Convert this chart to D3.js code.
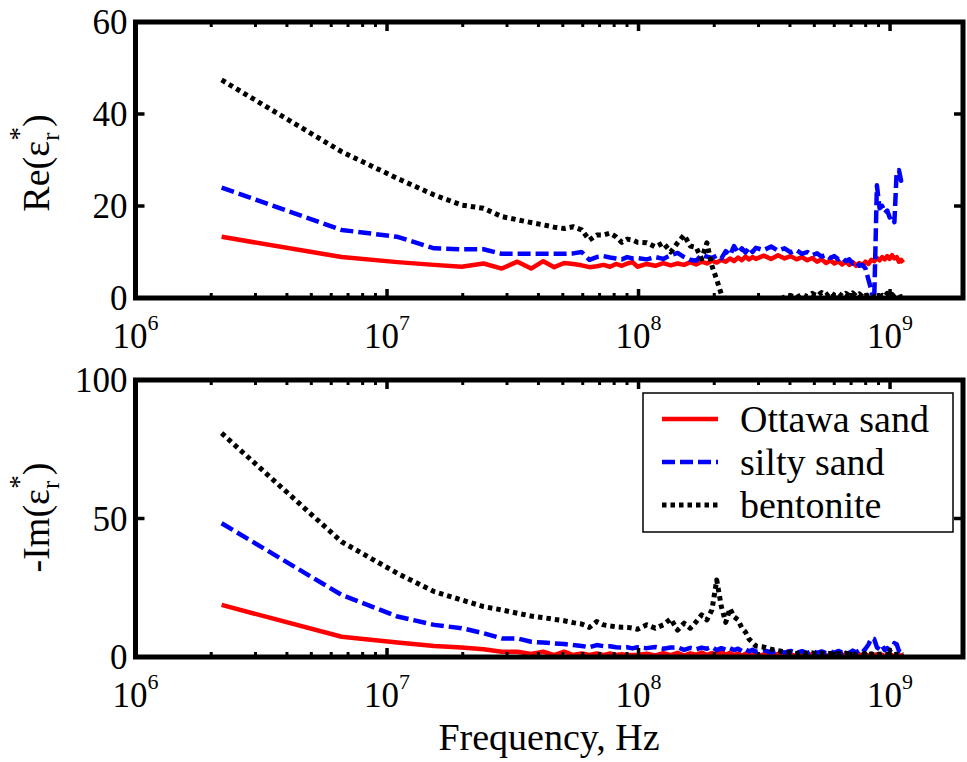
<!DOCTYPE html>
<html><head><meta charset="utf-8">
<script src="https://cdn.jsdelivr.net/npm/d3@7"></script>
<style>html,body{margin:0;padding:0;background:#fff;} svg{display:block;}</style>
</head><body>
<script>
// Frequency in MHz
const freqMHz = [2.2, 6.6, 11, 15.4, 19.8, 24.2, 28.6, 33, 37.4, 41.8, 46.2, 50.6, 55, 59.4, 63.8, 68.2, 72.6, 77, 81.4, 85.8, 90.2, 94.6, 99,
 107.8, 116.6, 125.4, 134.2, 143, 151.8, 160.6, 169.4, 178.2, 187, 195.8, 204.6, 213.4, 222.2, 231, 239.8, 248.6, 257.4, 266.2, 275, 283.8, 292.6,
 314.6, 336.6, 358.6, 380.6, 402.6, 424.6, 446.6, 468.6, 490.6, 512.6, 534.6, 556.6, 578.6, 600.6, 622.6, 644.6, 666.6, 688.6, 710.6, 732.6, 754.6,
 776.6, 798.6, 820.6, 842.6, 864.6, 886.6, 908.6, 930.6, 952.6, 974.6, 996.6, 1018.6, 1040.6, 1062.6, 1084.6, 1106.6, 1128.6];

// Re(eps_r*)
const reOttawa = [13.3, 8.9, 7.8, 7.2, 6.8, 7.5, 6.4, 7.9, 6.4, 8.0, 6.7, 7.6, 7.4, 7.1, 6.7, 6.9, 7.2, 6.8, 7.4, 7.0, 7.5, 7.8, 6.8,
 7.4, 7.0, 7.6, 7.1, 7.5, 7.2, 7.8, 7.3, 7.9, 7.5, 8.1, 7.7, 8.3, 7.9, 8.6, 8.0, 8.8, 8.2, 9.0, 8.4, 8.9, 8.5,
 9.2, 8.5, 9.3, 8.6, 9.1, 8.4, 8.9, 8.2, 8.7, 7.9, 8.4, 7.6, 8.2, 7.5, 8.0, 7.3, 7.9, 7.2, 7.8, 7.0,
 7.6, 7.1, 7.9, 7.4, 8.3, 8.0, 8.7, 8.2, 8.9, 8.4, 9.1, 8.5, 9.3, 8.6, 8.9, 7.9, 8.3, 7.7];
const reSilty = [24.0, 14.8, 13.3, 10.8, 10.6, 10.6, 9.6, 9.6, 9.6, 9.6, 9.6, 9.6, 9.7, 10.0, 8.3, 8.9, 9.1, 8.8, 8.6, 8.4, 8.9, 8.6, 8.7,
 8.4, 8.9, 8.5, 9.3, 9.8, 8.9, 8.3, 8.1, 9.4, 9.0, 8.7, 9.2, 8.6, 10.2, 9.3, 11.3, 9.8, 10.8, 9.9, 11.0, 10.0, 10.9,
 10.4, 11.2, 10.3, 10.8, 9.9, 10.4, 9.6, 10.0, 9.3, 9.7, 9.0, 9.4, 8.7, 9.1, 8.4, 8.8, 8.0, 8.4, 7.5, 7.9,
 7.0, 7.2, 6.4, 4.0, 1.7, -1, 24.5, 19.5, 20.0, 18.5, 19.0, 17.5, 17.8, 16.5, 27.5, 27.8, 25.5, 26.5];
const reBentonite = [47.4, 31.8, 26.0, 22.4, 20.2, 19.5, 17.7, 17.0, 16.4, 15.9, 15.4, 15.1, 15.5, 14.8, 12.6, 13.7, 13.7, 14.1, 13.3, 12.1, 12.8, 12.6, 12.1,
 12.0, 11.1, 12.0, 10.0, 12.0, 13.7, 11.3, 11.0, 8.5, 12.0, 7.0, 4.0, 0.8, -0.5, -0.5, -0.5, -0.5, -0.5, -0.5, -0.5, -0.5, -0.5,
 -0.5, -0.3, -0.5, 0.2, 0.5, 0.1, 0.8, 0.3, 1.0, 0.4, 1.2, 0.5, 1.3, 0.6, 1.1, 0.4, 1.0, 0.5, 1.1, 0.4,
 0.9, 0.3, 0.8, 0.4, 0.9, 0.3, 0.7, 0.2, 0.6, 0.3, 1.0, 0.4, 0.8, 0.2, 0.5, 0.1, 0.3, 0.1];

// -Im(eps_r*)
const imOttawa = [18.8, 7.3, 5.2, 4.0, 3.4, 2.8, 1.9, 1.9, 1.1, 1.9, 0.7, 1.9, 0.7, 1.3, 0.7, 1.3, 0.7, 1.3, 0.7, 1.0, 0.7, 0.7, 0.7,
 1.2, 0.6, 1.4, 0.7, 1.5, 0.5, 1.3, 0.8, 1.6, 0.7, 1.4, 0.9, 1.7, 0.8, 1.5, 0.6, 1.3, 0.5, 1.2, 0.4, 1.0, 0.3,
 0.9, 0.3, 1.1, 0.4, 1.0, 0.2, 0.9, 0.3, 1.1, 0.4, 0.8, 0.2, 1.0, 0.3, 0.9, 0.2, 1.1, 0.4, 0.8, 0.3,
 1.0, 0.2, 0.9, 0.4, 1.2, 0.5, 1.0, 0.3, 0.8, 0.2, 0.9, 0.3, 0.7, 0.2, 0.8, 0.3, 0.6, 0.2];
const imSilty = [48.3, 22.4, 14.6, 11.6, 10.4, 8.6, 6.7, 6.7, 5.5, 5.2, 4.9, 4.7, 4.3, 4.0, 3.5, 4.3, 3.9, 3.9, 3.5, 3.4, 3.5, 3.1, 3.5,
 3.2, 3.6, 3.0, 3.4, 3.5, 2.6, 3.3, 2.8, 3.4, 3.0, 3.6, 2.5, 3.2, 2.6, 3.2, 2.5, 3.0, 2.2, 2.8, 2.0, 2.6, 1.9,
 2.4, 1.7, 2.3, 1.6, 2.2, 1.5, 2.1, 1.4, 2.2, 1.5, 2.0, 1.4, 2.1, 1.5, 2.2, 1.6, 2.0, 1.5, 2.3, 1.6,
 2.4, 1.7, 3.0, 4.5, 6.8, 6.5, 3.5, 2.8, 4.0, 2.5, 3.2, 2.4, 3.0, 5.0, 4.6, 2.2, 1.8, 1.5];
const imBentonite = [80.8, 41.6, 30.2, 23.6, 20.6, 18.2, 17.0, 15.8, 14.8, 14.2, 13.6, 13.1, 12.4, 11.9, 10.7, 12.8, 11.6, 11.2, 10.9, 10.7, 10.7, 10.4, 10.0,
 11.6, 10.4, 11.6, 13.8, 9.7, 12.2, 10.4, 12.7, 15.2, 13.4, 17.0, 27.8, 18.2, 12.5, 17.5, 14.5, 13.4, 10.5, 9.0, 6.5, 5.2, 4.0,
 3.6, 2.8, 2.3, 1.9, 1.6, 1.3, 1.6, 1.2, 1.5, 1.1, 1.4, 1.0, 1.3, 0.9, 1.3, 1.0, 1.4, 1.1, 1.3, 0.9,
 1.2, 1.0, 1.3, 0.9, 1.1, 0.8, 1.2, 0.9, 1.1, 0.8, 1.0, 0.8, 1.1, 0.9, 1.0, 0.8, 0.9, 0.8];

const seriesNames = ["Ottawa sand", "silty sand", "bentonite"];
const xTickExponents = [6, 7, 8, 9];
const reTicks = [0, 20, 40, 60];
const imTicks = [0, 50, 100];

const W = 967, H = 762;
const FONT = "'Liberation Serif','Times New Roman',serif";
const styles = [
  {color: "#ff0000", dash: null, width: 4.5},
  {color: "#0000ff", dash: "13,5", width: 4.5},
  {color: "#000000", dash: "4.5,4", width: 5}
];

const svg = d3.select("body").append("svg").attr("width", W).attr("height", H)
  .style("font-family", FONT);

const x = d3.scaleLog().domain([1e6, 1.95e9]).range([135.5, 963]);

function panel(id, top, bottom, yMax, yTicks, seriesArr, labelPrefix) {
  const y = d3.scaleLinear().domain([0, yMax]).range([bottom, top]);
  const g = svg.append("g");
  const clipId = "clip" + id;
  svg.append("clipPath").attr("id", clipId).append("rect")
    .attr("x", x.range()[0]).attr("y", top).attr("width", x.range()[1] - x.range()[0]).attr("height", bottom - top);

  const line = d3.line().x((d, i) => x(freqMHz[i] * 1e6)).y(d => y(d));
  const dg = g.append("g").attr("clip-path", `url(#${clipId})`);
  seriesArr.forEach((vals, k) => {
    const s = styles[k];
    dg.append("path").datum(vals).attr("d", line)
      .attr("fill", "none").attr("stroke", s.color).attr("stroke-width", s.width)
      .attr("stroke-linejoin", "round")
      .attr("stroke-dasharray", s.dash);
  });

  const [x0, x1] = x.range();
  g.append("rect").attr("x", x0).attr("y", top).attr("width", x1 - x0).attr("height", bottom - top)
    .attr("fill", "none").attr("stroke", "#000").attr("stroke-width", 5);

  const majors = xTickExponents.map(e => Math.pow(10, e));
  const minors = [];
  xTickExponents.forEach(e => { for (let k = 2; k <= 9; k++) { const f = k * Math.pow(10, e); if (f <= x.domain()[1]) minors.push(f); } });
  majors.forEach(f => {
    g.append("line").attr("x1", x(f)).attr("x2", x(f)).attr("y1", bottom).attr("y2", bottom - 9).attr("stroke", "#000").attr("stroke-width", 3.5);
    g.append("line").attr("x1", x(f)).attr("x2", x(f)).attr("y1", top).attr("y2", top + 9).attr("stroke", "#000").attr("stroke-width", 3.5);
  });
  minors.forEach(f => {
    g.append("line").attr("x1", x(f)).attr("x2", x(f)).attr("y1", bottom).attr("y2", bottom - 5).attr("stroke", "#000").attr("stroke-width", 3);
    g.append("line").attr("x1", x(f)).attr("x2", x(f)).attr("y1", top).attr("y2", top + 5).attr("stroke", "#000").attr("stroke-width", 3);
  });
  xTickExponents.forEach(e => {
    const t = g.append("text").attr("x", x(Math.pow(10, e))).attr("y", bottom + 50)
      .attr("text-anchor", "middle").attr("font-size", 35).attr("fill", "#000");
    t.append("tspan").text("10");
    t.append("tspan").attr("dy", -18).attr("font-size", 22).text(String(e));
  });
  yTicks.forEach(v => {
    g.append("line").attr("x1", x0).attr("x2", x0 + 9).attr("y1", y(v)).attr("y2", y(v)).attr("stroke", "#000").attr("stroke-width", 3.5);
    g.append("line").attr("x1", x1).attr("x2", x1 - 9).attr("y1", y(v)).attr("y2", y(v)).attr("stroke", "#000").attr("stroke-width", 3.5);
    g.append("text").attr("x", x0 - 8).attr("y", y(v)).attr("dy", "0.35em")
      .attr("text-anchor", "end").attr("font-size", 35).text(v);
  });
  const cy = (top + bottom) / 2 + (id === 1 ? 3 : -1);
  const lt = g.append("text").attr("transform", `translate(49,${cy}) rotate(-90)`)
    .attr("text-anchor", "middle").attr("font-size", 38);
  lt.append("tspan").text(labelPrefix + "(\u03b5");
  lt.append("tspan").attr("dy", 10).attr("font-size", 25).text("r");
  lt.append("tspan").attr("dx", -8).attr("dy", -31).attr("font-size", 27).text("*");
  lt.append("tspan").attr("dy", 21).attr("font-size", 38).text(")");
  return {y, g};
}

panel(1, 22, 298, 60, reTicks, [reOttawa, reSilty, reBentonite], "Re");
panel(2, 380, 657, 100, imTicks, [imOttawa, imSilty, imBentonite], "-Im");

const lg = svg.append("g");
lg.append("rect").attr("x", 643).attr("y", 393).attr("width", 310).attr("height", 139)
  .attr("fill", "#fff").attr("stroke", "#000").attr("stroke-width", 1.5);
const rows = [419, 462, 505];
seriesNames.forEach((name, k) => {
  const s = styles[k];
  lg.append("line").attr("x1", 662).attr("x2", 718).attr("y1", rows[k]).attr("y2", rows[k])
    .attr("stroke", s.color).attr("stroke-width", s.width).attr("stroke-dasharray", s.dash);
  lg.append("text").attr("x", 740).attr("y", rows[k] + 13).attr("font-size", 38).text(name);
});

svg.append("text").attr("x", 549).attr("y", 750).attr("text-anchor", "middle")
  .attr("font-size", 38).text("Frequency, Hz");
</script>
</body></html>
